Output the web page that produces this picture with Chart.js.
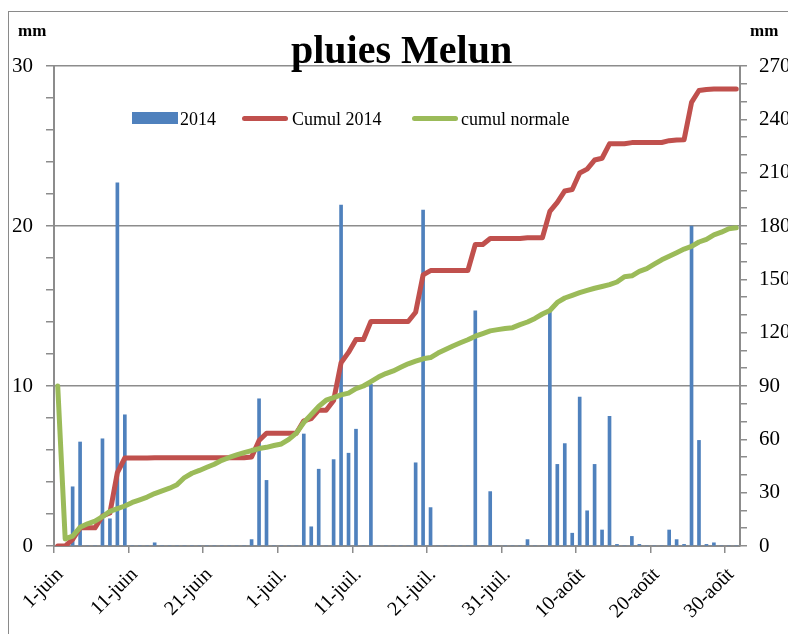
<!DOCTYPE html>
<html>
<head>
<meta charset="utf-8">
<script src="https://cdn.jsdelivr.net/npm/chart.js@4"></script>
<style>
  body { margin: 0; background: #fff; }
  #wrap { position: relative; width: 788px; height: 634px; overflow: hidden; font-family: "Liberation Serif", "Times New Roman", serif; }
  #cadre { position: absolute; left: 8px; top: 11px; width: 820px; height: 660px; border: 1.5px solid #8a8a8a; }
  canvas { position: absolute; left: 0; top: 0; }
  .txt { position: absolute; white-space: nowrap; color: #000; }
  .mm { font-weight: bold; font-size: 17px; line-height: 17px; top: 22px; }
  .leg { font-size: 18px; line-height: 18px; top: 110px; }
</style>
</head>
<body>
<div id="wrap">
  <div id="cadre"></div>
  <canvas id="pluies" width="788" height="634"></canvas>
  <div class="txt" style="left:291px; top:30px; font-size:40px; line-height:40px; font-weight:bold;">pluies Melun</div>
  <div class="txt mm" style="left:18px;">mm</div>
  <div class="txt mm" style="left:750px;">mm</div>
  <div class="txt" style="left:132px; top:112px; width:46px; height:12px; background:#4F81BD;"></div>
  <div class="txt leg" style="left:180px;">2014</div>
  <div class="txt" style="left:242px; top:116px; width:46px; height:5px; border-radius:3px; background:#C0504D;"></div>
  <div class="txt leg" style="left:292px;">Cumul 2014</div>
  <div class="txt" style="left:412px; top:116px; width:46px; height:5px; border-radius:3px; background:#9BBB59;"></div>
  <div class="txt leg" style="left:461px;">cumul normale</div>
</div>
<script>
// étiquettes de l'axe des dates (une tous les 10 jours depuis le 1er juin)
const etiquettesX = ['1-juin', '11-juin', '21-juin', '1-juil.', '11-juil.', '21-juil.', '31-juil.', '10-août', '20-août', '30-août'];

// pluie journalière 2014 (mm), du 1er juin au 31 août
const pluie2014 = [
  0, 0, 3.7, 6.5, 0, 0, 6.7, 1.7, 22.7, 8.2,
  0, 0, 0, 0.2, 0, 0, 0, 0, 0, 0,
  0, 0, 0, 0, 0, 0, 0.4, 9.2, 4.1, 0,
  0, 0, 0, 7.0, 1.2, 4.8, 0, 5.4, 21.3, 5.8,
  7.3, 0, 10.1, 0, 0, 0, 0, 0, 5.2, 21.0,
  2.4, 0, 0, 0, 0, 0, 14.7, 0, 3.4, 0,
  0, 0, 0, 0.4, 0, 0, 14.8, 5.1, 6.4, 0.8,
  9.3, 2.2, 5.1, 1.0, 8.1, 0.1, 0, 0.6, 0.1, 0,
  0, 0, 1.0, 0.4, 0.1, 20.0, 6.6, 0.1, 0.2, 0,
  0, 0
];

// cumul 2014 (mm, axe de droite)
const cumul2014 = [
  0, 0, 3.7, 10.2, 10.2, 10.2, 16.9, 18.6, 41.3, 49.5,
  49.5, 49.5, 49.5, 49.7, 49.7, 49.7, 49.7, 49.7, 49.7, 49.7,
  49.7, 49.7, 49.7, 49.7, 49.7, 49.7, 50.1, 59.3, 63.4, 63.4,
  63.4, 63.4, 63.4, 70.4, 71.6, 76.4, 76.4, 81.8, 103.1, 108.9,
  116.2, 116.2, 126.3, 126.3, 126.3, 126.3, 126.3, 126.3, 131.5, 152.5,
  154.9, 154.9, 154.9, 154.9, 154.9, 154.9, 169.6, 169.6, 173.0, 173.0,
  173.0, 173.0, 173.0, 173.4, 173.4, 173.4, 188.2, 193.3, 199.7, 200.5,
  209.8, 212.0, 217.1, 218.1, 226.2, 226.3, 226.3, 226.9, 227.0, 227.0,
  227.0, 227.0, 228.0, 228.4, 228.5, 249.5, 256.2, 256.8, 257.0, 257.0,
  257.0, 257.0
];

// cumul normale (mm, axe de droite)
const cumulNormale = [
  90, 4, 5.5, 10.5, 12.5, 14, 16.5, 19.5, 21, 22.5,
  24.5, 26, 27.5, 29.5, 31, 32.5, 34.5, 38.5, 40.9, 42.5,
  44.3, 46, 48.2, 49.8, 51.2, 52.5, 53.7, 54.8, 55.5, 56.5,
  57.4, 60, 63.5, 69.5, 74, 78.5, 82, 83.5, 85, 86,
  88.5, 90, 92.5, 95, 97, 98.5, 100.5, 102.5, 104, 105.3,
  106, 108.5, 110.5, 112.5, 114.3, 116, 118, 119.5, 121, 121.7,
  122.3, 122.8, 124.5, 126, 128, 130.5, 132.5, 137, 139.5, 141,
  142.5, 143.8, 145, 146, 147, 148.5, 151.5, 152, 154.5, 156,
  158.5, 161, 163, 165, 167, 168.5, 171, 172.5, 175, 176.5,
  178.5, 179
];

// un point par jour, placé au milieu de la journée
const parJour = arr => arr.map((v, i) => ({ x: i + 0.5, y: v }));

const gris = '#8c8c8c';
const police = 'Liberation Serif';

new Chart(document.getElementById('pluies'), {
  type: 'bar',
  data: {
    datasets: [
      {
        type: 'line',
        label: 'cumul normale',
        data: parJour(cumulNormale),
        yAxisID: 'y2',
        borderColor: '#9BBB59',
        borderWidth: 5,
        pointRadius: 0,
        tension: 0,
        borderJoinStyle: 'round',
        borderCapStyle: 'round',
        order: 0
      },
      {
        type: 'line',
        label: 'Cumul 2014',
        data: parJour(cumul2014),
        yAxisID: 'y2',
        borderColor: '#C0504D',
        borderWidth: 5,
        pointRadius: 0,
        tension: 0,
        borderJoinStyle: 'round',
        borderCapStyle: 'round',
        order: 1
      },
      {
        label: '2014',
        data: parJour(pluie2014),
        yAxisID: 'y',
        backgroundColor: '#4F81BD',
        barThickness: 3,
        order: 2
      }
    ]
  },
  options: {
    responsive: false,
    animation: false,
    layout: { padding: { top: 66, left: 0, right: 0, bottom: 0 } },
    plugins: { legend: { display: false }, tooltip: { enabled: false } },
    scales: {
      x: {
        type: 'linear',
        min: 0,
        max: 92,
        offset: false,
        // une graduation tous les 10 jours
        afterBuildTicks: s => { s.ticks = etiquettesX.map((_, i) => ({ value: i * 10 })); },
        afterFit: s => { s.height = 88; },
        ticks: {
          autoSkip: false,
          minRotation: 45,
          maxRotation: 45,
          padding: 10,
          labelOffset: 6,
          color: '#000',
          font: { family: police, size: 20 },
          callback: v => etiquettesX[Math.round(v / 10)] || ''
        },
        grid: { drawOnChartArea: false, offset: false, tickLength: 7, color: gris, lineWidth: 1.5 },
        border: { color: gris, width: 2 }
      },
      y: {
        position: 'left',
        min: 0,
        max: 30,
        afterFit: s => { s.width = 54; },
        ticks: {
          stepSize: 2,
          autoSkip: false,
          padding: 13,
          color: '#000',
          font: { family: police, size: 21 },
          callback: v => (v % 10 === 0 ? v : '')
        },
        grid: {
          color: c => (c.tick && c.tick.value % 10 === 0 ? gris : 'rgba(0,0,0,0)'),
          tickColor: gris,
          tickLength: 8,
          lineWidth: 1.5
        },
        border: { color: gris, width: 2 }
      },
      y2: {
        position: 'right',
        min: 0,
        max: 270,
        afterFit: s => { s.width = 48; },
        ticks: {
          stepSize: 10,
          autoSkip: false,
          padding: 12,
          color: '#000',
          font: { family: police, size: 21 },
          callback: v => (v % 30 === 0 ? v : '')
        },
        grid: { drawOnChartArea: false, tickColor: gris, tickLength: 7, lineWidth: 1.5 },
        border: { color: gris, width: 2 }
      }
    }
  }
});
</script>
</body>
</html>
